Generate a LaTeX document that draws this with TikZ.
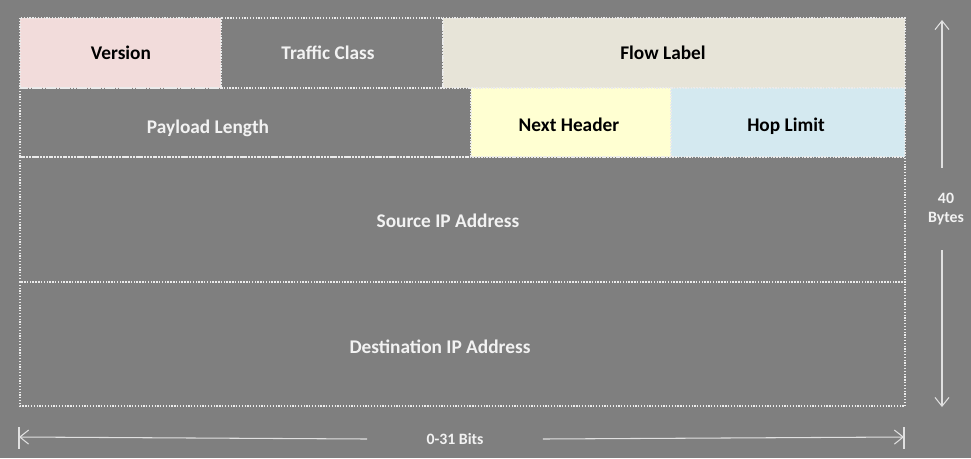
\documentclass[tikz,border=0pt]{standalone}
\usepackage{fontspec}
\setmainfont{Carlito}
\usetikzlibrary{arrows.meta}
\definecolor{bggray}{HTML}{7F7F7F}
\definecolor{verpink}{HTML}{F2DCDB}
\definecolor{flowbeige}{HTML}{E7E4D8}
\definecolor{nextyellow}{HTML}{FFFFD2}
\definecolor{hopblue}{HTML}{D4E9F0}
\tikzset{
  cell/.style={draw=white!92!black, line width=0.7pt, dash pattern=on 0.7pt off 0.9pt},
  darklbl/.style={font=\bfseries\fontsize{11}{13}\selectfont, text=black, text height=0.7em, text depth=0.2em, yshift=-1.2pt},
  lightlbl/.style={font=\bfseries\fontsize{11}{13}\selectfont, text=white!95!black, text height=0.7em, text depth=0.2em, yshift=-1.2pt},
  dimlbl/.style={font=\bfseries\fontsize{9}{10.5}\selectfont, text=white!95!black, align=center, inner sep=0pt},
  dimline/.style={draw=white!88!black, line width=0.6pt},
  dimtip/.style={-{Straight Barb[length=5pt,width=8pt,line width=0.6pt]}}
}
\begin{document}
\begin{tikzpicture}[x=0.02cm,y=-0.02cm]
	%Background
	\fill[bggray] (0,0) rectangle (971,458);
	\useasboundingbox (0,0) rectangle (971,458);

	%Row 1
	\filldraw[cell, fill=verpink]   (20,18)  rectangle (221,88);
	\draw[cell]                     (221,18) rectangle (443,88);
	\filldraw[cell, fill=flowbeige] (443,18) rectangle (905,88);
	\node[darklbl]  (version) at (121,53) {Version};
	\node[lightlbl] (traffic) at (328,53) {Traffic Class};
	\node[darklbl]  (flow)    at (663,53) {Flow Label};

	%Row 2
	\draw[cell]                      (20,88)  rectangle (471,157);
	\filldraw[cell, fill=nextyellow] (471,88) rectangle (671,157);
	\filldraw[cell, fill=hopblue]    (671,88) rectangle (905,157);
	\node[lightlbl] (payload) at (208,127) {Payload Length};
	\node[darklbl]  (next)    at (569,125) {Next Header};
	\node[darklbl]  (hop)     at (786,125) {Hop Limit};

	%Rows 3 and 4
	\draw[cell] (20,157) rectangle (905,282);
	\draw[cell] (20,282) rectangle (905,406);
	\node[lightlbl] (source) at (448,221) {Source IP Address};
	\node[lightlbl] (dest)   at (440,347) {Destination IP Address};

	%Dimensions
	\coordinate (bitsl) at (19,437);
	\coordinate (bitsr) at (904,437);
	\coordinate (bytest) at (942,20);
	\coordinate (bytesb) at (942,407);
	\node[dimlbl, minimum width=3.5cm] (bits) at (455,439) {0-31 Bits};
	\node[dimlbl, minimum height=1.64cm] (bytes) at (946,209) {40\\Bytes};

	\draw[dimline, dimtip] (bits.west) -- (bitsl);
	\draw[dimline, dimtip] (bits.east) -- (bitsr);
	\draw[dimline] (19,427) -- (19,449);
	\draw[dimline] (904,427) -- (904,449);
	\draw[dimline, dimtip] (bytes.north -| bytest) -- (bytest);
	\draw[dimline, dimtip] (bytes.south -| bytesb) -- (bytesb);
\end{tikzpicture}
\end{document}
